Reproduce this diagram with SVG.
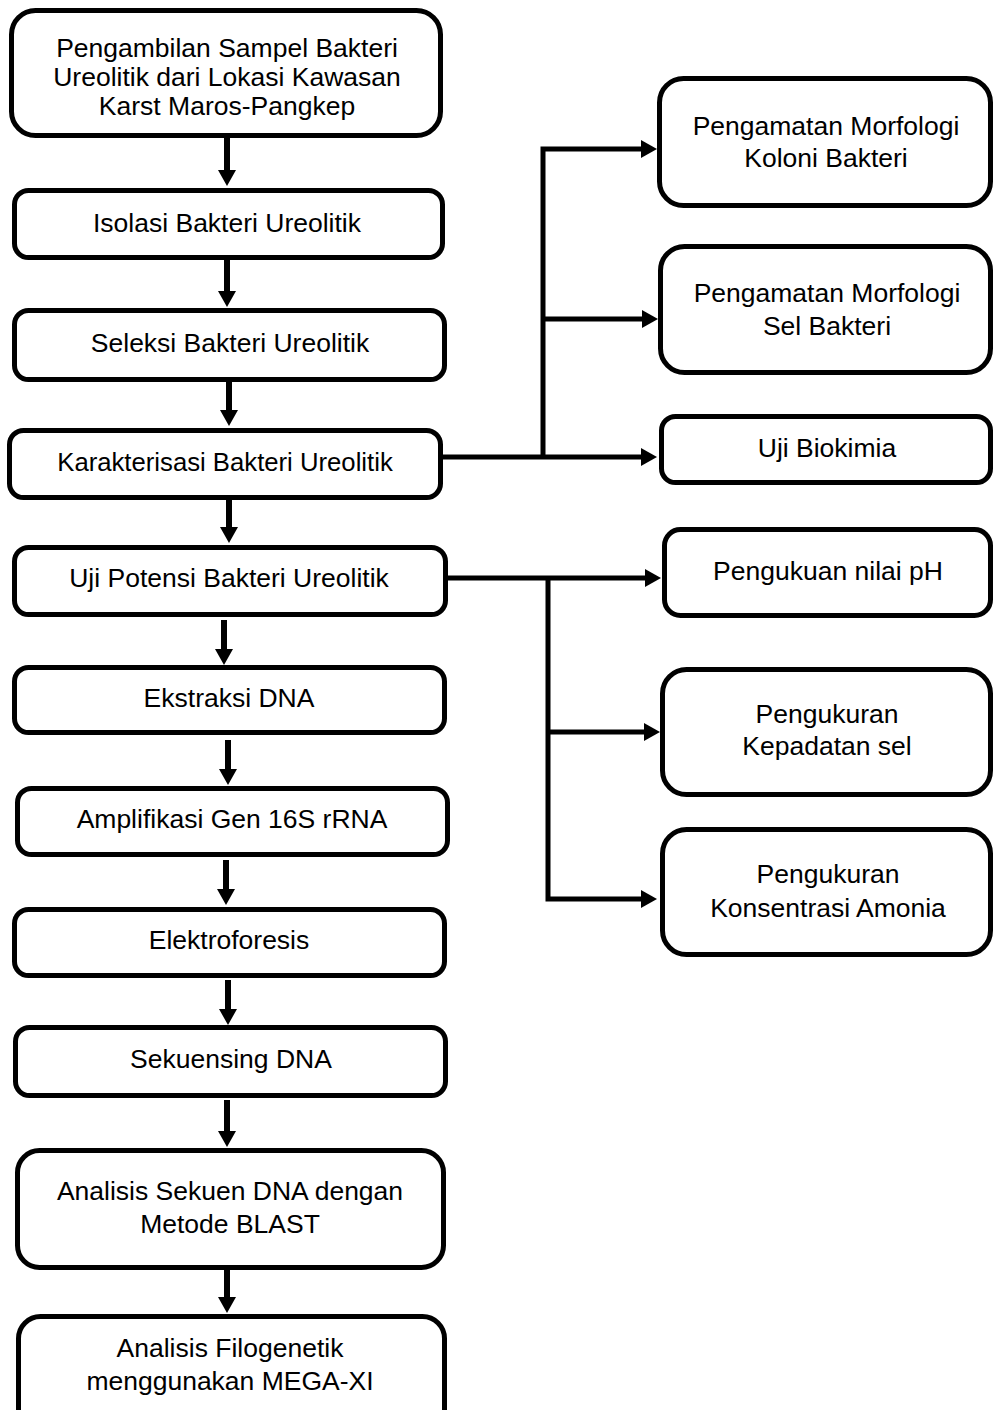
<svg xmlns="http://www.w3.org/2000/svg" width="994" height="1410" viewBox="0 0 994 1410">
<style>
.box{fill:#fff;stroke:#000;stroke-width:5}
.t{font-family:"Liberation Sans",Arial,sans-serif;font-size:26.5px;fill:#000;text-anchor:middle}
.v{stroke:#000;stroke-width:6;fill:none}
.h{stroke:#000;stroke-width:5;fill:none}
</style>
<defs>
<marker id="ah" markerUnits="userSpaceOnUse" markerWidth="16" markerHeight="18" refX="0" refY="9" orient="auto" overflow="visible">
<path d="M0,0 L16,9 L0,18 z" fill="#000"/>
</marker>
</defs>
<rect width="994" height="1410" fill="#fff"/>
<g id="connectors">
<line class="v" x1="227" y1="138" x2="227" y2="170" marker-end="url(#ah)"/>
<line class="v" x1="227" y1="260" x2="227" y2="291" marker-end="url(#ah)"/>
<line class="v" x1="229" y1="382" x2="229" y2="410" marker-end="url(#ah)"/>
<line class="v" x1="229" y1="500" x2="229" y2="527" marker-end="url(#ah)"/>
<line class="v" x1="224" y1="620" x2="224" y2="649" marker-end="url(#ah)"/>
<line class="v" x1="228" y1="740" x2="228" y2="769" marker-end="url(#ah)"/>
<line class="v" x1="226" y1="860" x2="226" y2="889" marker-end="url(#ah)"/>
<line class="v" x1="228" y1="980" x2="228" y2="1009" marker-end="url(#ah)"/>
<line class="v" x1="227" y1="1100" x2="227" y2="1131" marker-end="url(#ah)"/>
<line class="v" x1="227" y1="1270" x2="227" y2="1297" marker-end="url(#ah)"/>
<polyline class="h" points="443,457 641,457" marker-end="url(#ah)"/>
<polyline class="h" points="543,457 543,149 641,149" marker-end="url(#ah)"/>
<polyline class="h" points="543,319 642,319" marker-end="url(#ah)"/>
<polyline class="h" points="448,578 645,578" marker-end="url(#ah)"/>
<polyline class="h" points="548,578 548,899 641,899" marker-end="url(#ah)"/>
<polyline class="h" points="548,732 644,732" marker-end="url(#ah)"/>
</g>
<g id="n1"><rect class="box" x="11.5" y="10.5" width="429" height="125" rx="24"/>
<text class="t" x="227" y="57">Pengambilan Sampel Bakteri</text>
<text class="t" x="227" y="86">Ureolitik dari Lokasi Kawasan</text>
<text class="t" x="227" y="115">Karst Maros-Pangkep</text></g>
<g id="n2"><rect class="box" x="14.5" y="190.5" width="428" height="67" rx="14"/>
<text class="t" x="227" y="232">Isolasi Bakteri Ureolitik</text></g>
<g id="n3"><rect class="box" x="14.5" y="310.5" width="430" height="69" rx="14"/>
<text class="t" x="230" y="352">Seleksi Bakteri Ureolitik</text></g>
<g id="n4"><rect class="box" x="9.5" y="430.5" width="431" height="67" rx="14"/>
<text class="t" x="225" y="471" style="font-size:25.7px">Karakterisasi Bakteri Ureolitik</text></g>
<g id="n5"><rect class="box" x="14.5" y="547.5" width="431" height="67" rx="14"/>
<text class="t" x="229" y="587">Uji Potensi Bakteri Ureolitik</text></g>
<g id="n6"><rect class="box" x="14.5" y="667.5" width="430" height="65" rx="14"/>
<text class="t" x="229" y="707">Ekstraksi DNA</text></g>
<g id="n7"><rect class="box" x="17.5" y="788.5" width="430" height="66" rx="14"/>
<text class="t" x="232" y="828">Amplifikasi Gen 16S rRNA</text></g>
<g id="n8"><rect class="box" x="14.5" y="909.5" width="430" height="66" rx="14"/>
<text class="t" x="229" y="949">Elektroforesis</text></g>
<g id="n9"><rect class="box" x="15.5" y="1027.5" width="430" height="68" rx="14"/>
<text class="t" x="231" y="1068">Sekuensing DNA</text></g>
<g id="n10"><rect class="box" x="17.5" y="1150.5" width="426" height="117" rx="22"/>
<text class="t" x="230" y="1200">Analisis Sekuen DNA dengan</text>
<text class="t" x="230" y="1233">Metode BLAST</text></g>
<g id="n11"><rect class="box" x="18.5" y="1316.5" width="426" height="115" rx="22"/>
<text class="t" x="230" y="1357">Analisis Filogenetik</text>
<text class="t" x="230" y="1390">menggunakan MEGA-XI</text></g>
<g id="r1"><rect class="box" x="659.5" y="78.5" width="331" height="127" rx="24"/>
<text class="t" x="826" y="135">Pengamatan Morfologi</text>
<text class="t" x="826" y="167">Koloni Bakteri</text></g>
<g id="r2"><rect class="box" x="660.5" y="246.5" width="330" height="126" rx="24"/>
<text class="t" x="827" y="302">Pengamatan Morfologi</text>
<text class="t" x="827" y="335">Sel Bakteri</text></g>
<g id="r3"><rect class="box" x="661.5" y="416.5" width="329" height="66" rx="14"/>
<text class="t" x="827" y="457">Uji Biokimia</text></g>
<g id="r4"><rect class="box" x="664.5" y="529.5" width="326" height="86" rx="16"/>
<text class="t" x="828" y="580">Pengukuan nilai pH</text></g>
<g id="r5"><rect class="box" x="662.5" y="669.5" width="328" height="125" rx="24"/>
<text class="t" x="827" y="723">Pengukuran</text>
<text class="t" x="827" y="755">Kepadatan sel</text></g>
<g id="r6"><rect class="box" x="662.5" y="829.5" width="328" height="125" rx="24"/>
<text class="t" x="828" y="883">Pengukuran</text>
<text class="t" x="828" y="917">Konsentrasi Amonia</text></g>
</svg>
